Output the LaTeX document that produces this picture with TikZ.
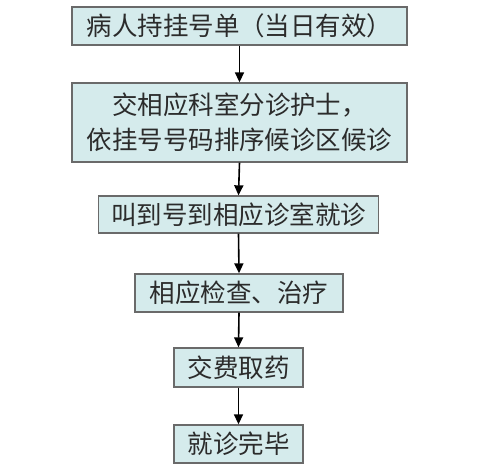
\documentclass[tikz,border=0pt]{standalone}
\usepackage{fontspec}
\setmainfont{Noto Sans CJK SC}
\usetikzlibrary{arrows.meta}
\definecolor{boxfill}{HTML}{D5EBEC}
\definecolor{boxline}{HTML}{6A6A6A}
\definecolor{txt}{HTML}{2B2B2B}
\tikzset{
  stepbox/.style={draw=boxline, line width=1.3pt, fill=boxfill, text=txt,
    inner sep=0pt, align=center, font=\fontsize{25.5}{35}\selectfont},
  flow/.style={line width=1.6pt, -{Triangle[length=10pt,width=9pt]}}
}
\begin{document}
\begin{tikzpicture}[x=1pt,y=1pt]
\useasboundingbox (0,0) rectangle (493,471);
\node[stepbox, minimum width=335pt, minimum height=38pt] (a) at (239.5,445) {病人持挂号单（当日有效）};
\node[stepbox, minimum width=335pt, minimum height=79pt] (b) at (239.5,348.5) {交相应科室分诊护士，\\依挂号号码排序候诊区候诊};
\node[stepbox, minimum width=280pt, minimum height=37pt] (c) at (238.5,256.5) {叫到号到相应诊室就诊};
\node[stepbox, minimum width=208pt, minimum height=38pt] (d) at (239,178) {相应检查、治疗};
\node[stepbox, minimum width=129pt, minimum height=39pt] (e) at (238.5,103.5) {交费取药};
\node[stepbox, minimum width=129pt, minimum height=38pt] (f) at (238.5,27) {就诊完毕};
\draw[flow] (a.south) -- (b.north);
\draw[flow] (b.south) -- (c.north);
\draw[flow] (c.south) -- (d.north);
\draw[flow] (d.south) -- (e.north);
\draw[flow] (e.south) -- (f.north);
\end{tikzpicture}
\end{document}
